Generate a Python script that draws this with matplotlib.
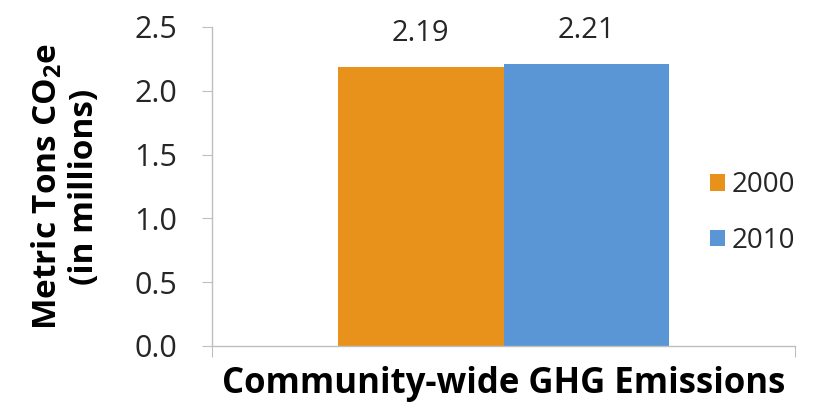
import matplotlib
matplotlib.use("Agg")
import matplotlib.pyplot as plt

# data
years = ["2000", "2010"]
emissions = [2.19, 2.21]
colors = ["#E9921B", "#5A96D5"]
category = "Community-wide GHG Emissions"

plt.rcParams['font.family'] = ['Open Sans', 'DejaVu Sans']

fig = plt.figure(figsize=(8.31, 4.15), dpi=100)
ax = fig.add_axes([0.2551, 0.1663, 0.7016, 0.7687])

w = 0.284
offsets = [-w / 2, w / 2]
for yr, val, c, off in zip(years, emissions, colors, offsets):
    ax.bar(off, val, width=w, color=c, label=yr)
    ax.text(off, val + 0.2, "%.2f" % val, ha='center', va='baseline',
            fontsize=21, color='#262626')

ax.set_xlim(-0.5, 0.5)
ax.set_ylim(0, 2.5)
yt = [0, 0.5, 1.0, 1.5, 2.0, 2.5]
ax.set_yticks(yt)
ax.set_yticklabels(["%.1f" % t for t in yt])
ax.set_xticks([-0.5, 0.5])
ax.set_xticklabels(["", ""])

for s in ['top', 'right']:
    ax.spines[s].set_visible(False)
for s in ['left', 'bottom']:
    ax.spines[s].set_color('#BFBFBF')
    ax.spines[s].set_linewidth(1.0)

ax.tick_params(axis='y', direction='out', length=7, color='#BFBFBF',
               labelsize=22, labelcolor='#262626', pad=18)
ax.tick_params(axis='x', direction='out', length=8, color='#BFBFBF')

ax.set_xlabel(category, fontsize=25, fontweight='bold', labelpad=3)
ax.set_ylabel("Metric Tons CO$_\\mathregular{2}$e\n(in millions)", fontsize=24,
              fontweight='bold', linespacing=1.15, labelpad=24)

ax.legend(loc='center left', bbox_to_anchor=(0.824, 0.487), bbox_transform=fig.transFigure,
          frameon=False, fontsize=20, handlelength=0.55, handleheight=0.55,
          handletextpad=0.25, labelspacing=1.0, labelcolor='#262626')

fig.savefig("out.png", dpi=100)
